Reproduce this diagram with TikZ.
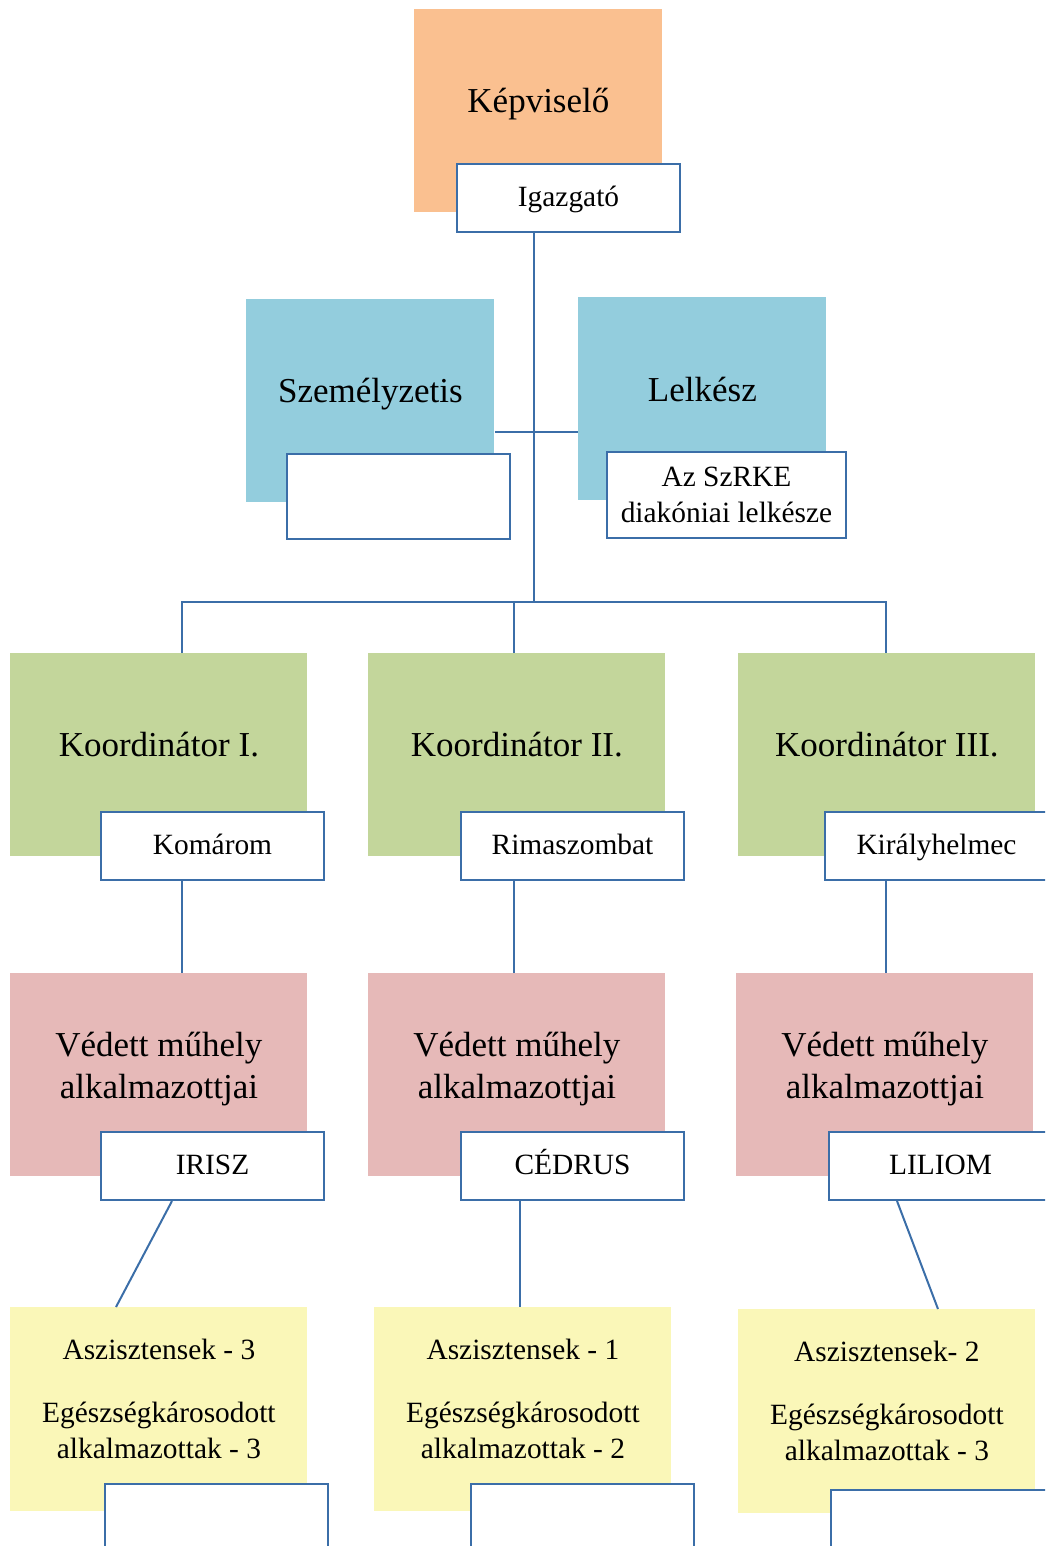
\documentclass[tikz,border=0pt]{standalone}
\usepackage{fontspec}
\setmainfont{Liberation Serif}
\definecolor{linkblue}{HTML}{3B6EA8}
\definecolor{orangefill}{HTML}{FAC090}
\definecolor{bluefill}{HTML}{93CDDD}
\definecolor{greenfill}{HTML}{C3D69B}
\definecolor{pinkfill}{HTML}{E6B9B8}
\definecolor{yellowfill}{HTML}{FAF7B8}

\begin{document}
\begin{tikzpicture}[x=0.5pt,y=-0.5pt]
    \tikzstyle{every node}+=[inner sep=0pt]
    \tikzstyle{bigbox}=[anchor=north west,minimum width=124pt,minimum height=101.5pt]
    \tikzstyle{widebox}=[bigbox,minimum width=148.5pt]
    \tikzstyle{boxtext}=[font=\fontsize{17.5}{21}\selectfont,align=center]
    \tikzstyle{smalltext}=[font=\fontsize{14.7}{18}\selectfont,align=center]
    \tikzstyle{namebox}=[anchor=north west,draw=linkblue,line width=1pt,fill=white,minimum width=111.5pt,minimum height=34pt,smalltext]
    \tikzstyle{nameline}=[namebox,text height=11pt,text depth=3pt]
    \tikzstyle{link}=[linkblue,line width=1pt]
    \useasboundingbox (0,0) rectangle (1045,1546);
    \clip (0,0) rectangle (1045,1546);
    % top
    \node [bigbox,fill=orangefill] (kepv) at (414,9) {};
    \node [boxtext] (kepvtext) at ([yshift=3.5pt]kepv.center) {K\'epvisel\H{o}};
    \node [nameline] (igazgato) at (456,163) {Igazgat\'o};
    \node [bigbox,fill=bluefill] (szemely) at (246,299) {};
    \node [boxtext] (szemelytext) at ([yshift=3.5pt]szemely.center) {Szem\'elyzetis};
    \node [namebox,minimum height=42.5pt] (szemelyname) at (286,453) {};
    \node [bigbox,fill=bluefill] (lelkesz) at (578,297) {};
    \node [boxtext] (lelkesztext) at ([yshift=4.5pt]lelkesz.center) {Lelk\'esz};
    \node [namebox,minimum width=119.5pt,minimum height=43pt] (lelkeszname) at (606,451) {Az SzRKE\\diak\'oniai lelk\'esze};
    \coordinate (bus) at (534,602);
    \coordinate (staff) at (534,432);
    \coordinate (d1) at (182,602);
    \coordinate (d2) at (514,602);
    \coordinate (d3) at (886,602);
    % koordinatorok
    \node [widebox,fill=greenfill] (koord1) at (10,653) {};
    \node [widebox,fill=greenfill] (koord2) at (368,653) {};
    \node [widebox,fill=greenfill] (koord3) at (738,653) {};
    \node [boxtext] (koordtext1) at ([yshift=5pt]koord1.center) {Koordin\'ator I.};
    \node [boxtext] (koordtext2) at ([yshift=5pt]koord2.center) {Koordin\'ator II.};
    \node [boxtext] (koordtext3) at ([yshift=5pt]koord3.center) {Koordin\'ator III.};
    \node [nameline] (komarom) at (100,811) {Kom\'arom};
    \node [nameline] (rimaszombat) at (460,811) {Rimaszombat};
    \node [nameline] (kiraly) at (824,811) {Kir\'alyhelmec};
    % muhelyek
    \node [widebox,fill=pinkfill] (vedett1) at (10,973) {};
    \node [widebox,fill=pinkfill] (vedett2) at (368,973) {};
    \node [widebox,fill=pinkfill] (vedett3) at (736,973) {};
    \node [boxtext] (vedetttext1) at ([yshift=3pt]vedett1.center) {V\'edett m\H{u}hely\\alkalmazottjai};
    \node [boxtext] (vedetttext2) at ([yshift=3pt]vedett2.center) {V\'edett m\H{u}hely\\alkalmazottjai};
    \node [boxtext] (vedetttext3) at ([yshift=3pt]vedett3.center) {V\'edett m\H{u}hely\\alkalmazottjai};
    \node [nameline] (irisz) at (100,1131) {IRISZ};
    \node [nameline] (cedrus) at (460,1131) {C\'EDRUS};
    \node [nameline] (liliom) at (828,1131) {LILIOM};
    % aszisztensek
    \node [widebox,fill=yellowfill,minimum height=102pt] (asz1) at (10,1307) {};
    \node [widebox,fill=yellowfill,minimum height=102pt] (asz2) at (374,1307) {};
    \node [widebox,fill=yellowfill,minimum height=102pt] (asz3) at (738,1309) {};
    \node [smalltext] (asztext1) at ([yshift=5pt]asz1.center) {Aszisztensek - 3\\[13.5pt]Eg\'eszs\'egk\'arosodott\\alkalmazottak - 3};
    \node [smalltext] (asztext2) at ([yshift=5pt]asz2.center) {Aszisztensek - 1\\[13.5pt]Eg\'eszs\'egk\'arosodott\\alkalmazottak - 2};
    \node [smalltext] (asztext3) at ([yshift=5pt]asz3.center) {Aszisztensek- 2\\[13.5pt]Eg\'eszs\'egk\'arosodott\\alkalmazottak - 3};
    \node [namebox,minimum height=40pt] (aszname1) at (104,1483) {};
    \node [namebox,minimum height=40pt] (aszname2) at (470,1483) {};
    \node [namebox,minimum height=40pt] (aszname3) at (830,1489) {};
    % connectors
    \draw [link] (igazgato.south -| bus) -- (bus);
    \draw [link] (staff -| szemely.east) -- (staff -| lelkesz.west);
    \draw [link] (d1 |- koord1.north) -- (d1) -- (d3) -- (d3 |- koord3.north);
    \draw [link] (d2) -- (d2 |- koord2.north);
    \draw [link] (d1 |- komarom.south) -- (d1 |- vedett1.north);
    \draw [link] (d2 |- rimaszombat.south) -- (d2 |- vedett2.north);
    \draw [link] (d3 |- kiraly.south) -- (d3 |- vedett3.north);
    \draw [link] ([xshift=36pt]irisz.south west) -- ([xshift=53pt]asz1.north west);
    \draw [link] ([xshift=30pt]cedrus.south west) -- ([xshift=73pt]asz2.north west);
    \draw [link] ([xshift=34.5pt]liliom.south west) -- ([xshift=100pt]asz3.north west);
\end{tikzpicture}
\end{document}
